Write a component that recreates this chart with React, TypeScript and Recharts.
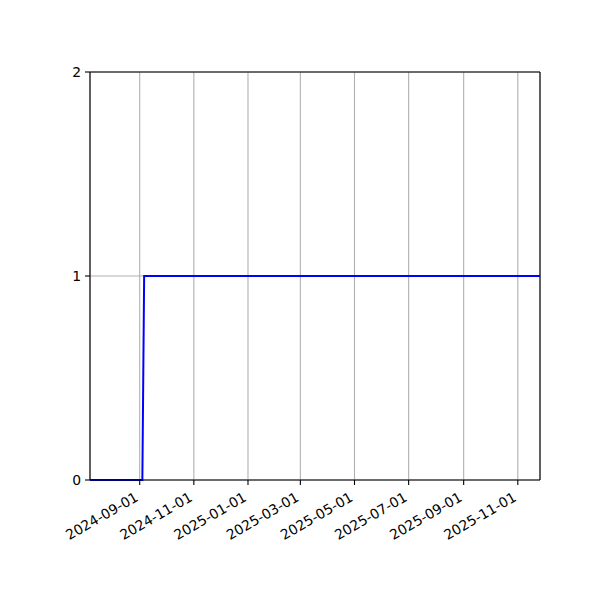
import React from 'react';
import { LineChart, Line, XAxis, YAxis, CartesianGrid, ReferenceLine } from 'recharts';

const dates = ['2024-07-07', '2024-09-04', '2024-09-06', '2025-11-26'];
const values = [0, 0, 1, 1];
const xTickLabels = [
  '2024-09-01', '2024-11-01', '2025-01-01', '2025-03-01',
  '2025-05-01', '2025-07-01', '2025-09-01', '2025-11-01',
];
const yTicks = [0, 1, 2];

const toTs = (s: string) => Date.parse(s + 'T00:00:00Z');
const data = dates.map((d, i) => ({ t: toTs(d), v: values[i] }));
const xTicks = xTickLabels.map(toTs);
const xDomain = [toTs(dates[0]), toTs(dates[dates.length - 1])];

const fmt = (ts: number) => new Date(ts).toISOString().slice(0, 10);
const FONT = 'DejaVu Sans';

const DateTick = (props: any) => {
  const { x, y, payload } = props;
  return (
    <g transform={`translate(${x - 0.5},${y + 13})`}>
      <text
        transform="rotate(-30)"
        textAnchor="end"
        fill="#000"
        fontSize={13.9}
        fontFamily={FONT}
      >
        {fmt(payload.value)}
      </text>
    </g>
  );
};

export default function App() {
  return (
    <div style={{ position: 'absolute', left: 0, top: 0, width: 600, height: 600, background: '#fff' }}>
      <LineChart
        width={600}
        height={600}
        data={data}
        margin={{ top: 72, right: 60, bottom: 60, left: 50 }}
      >
        <CartesianGrid stroke="#b0b0b0" strokeWidth={1.1} />
        <XAxis
          dataKey="t"
          type="number"
          scale="time"
          domain={xDomain}
          ticks={xTicks}
          allowDataOverflow
          height={60}
          tick={<DateTick />}
          tickSize={5}
          tickLine={{ stroke: '#000', strokeWidth: 1.1 }}
          axisLine={{ stroke: '#000', strokeWidth: 1.1 }}
          interval={0}
        />
        <YAxis
          type="number"
          domain={[0, 2]}
          ticks={yTicks}
          width={40}
          tickSize={5}
          tickMargin={4}
          tick={{ fill: '#000', fontSize: 13.9, fontFamily: FONT }}
          tickLine={{ stroke: '#000', strokeWidth: 1.1 }}
          axisLine={{ stroke: '#000', strokeWidth: 1.1 }}
        />
        <ReferenceLine y={2} stroke="#000" strokeWidth={1.1} />
        <ReferenceLine x={xDomain[1]} stroke="#000" strokeWidth={1.1} />
        <Line
          dataKey="v"
          type="linear"
          stroke="#0000ff"
          strokeWidth={2}
          dot={false}
          isAnimationActive={false}
        />
      </LineChart>
    </div>
  );
}
